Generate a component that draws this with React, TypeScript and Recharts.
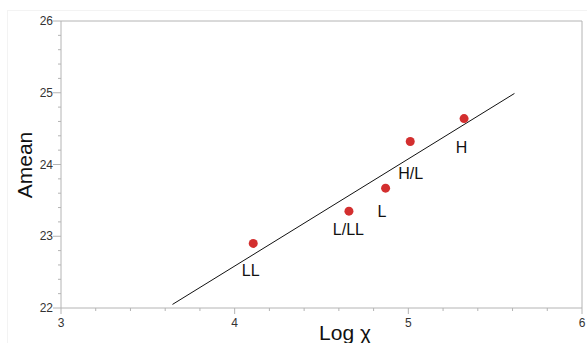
import React from 'react';
import { ScatterChart, Scatter, XAxis, YAxis, ReferenceLine, LabelList, Label } from 'recharts';

// grain classes: log magnetic susceptibility vs mean A value
const groups = ['LL', 'L/LL', 'L', 'H/L', 'H'];
const logChi = [4.107, 4.658, 4.869, 5.011, 5.321];
const amean = [22.9, 23.35, 23.67, 24.32, 24.64];

// fitted line end points
const fitX = [3.642, 5.611];
const fitY = [22.05, 24.99];

const xTicks = [3, 3.2, 3.4, 3.6, 3.8, 4, 4.2, 4.4, 4.6, 4.8, 5, 5.2, 5.4, 5.6, 5.8, 6];
const yTicks = [22, 22.2, 22.4, 22.6, 22.8, 23, 23.2, 23.4, 23.6, 23.8, 24, 24.2, 24.4, 24.6, 24.8, 25, 25.2, 25.4, 25.6, 25.8, 26];

const points = groups.map((g, i) => ({ x: logChi[i], y: amean[i], name: g }));
const fitLine = fitX.map((x, i) => ({ x, y: fitY[i] }));

// label placement relative to each point (px)
const labelShift: Record<string, [number, number]> = {
  LL: [2, 31],
  'L/LL': [4, 22],
  L: [1, 27],
  'H/L': [5, 36],
  H: [2, 33],
};

const AXIS = '#b4b4b4';
const FONT = '"Liberation Sans", Arial, sans-serif';

const isMajor = (v: number) => Math.abs(v - Math.round(v)) < 1e-6;

const XTick = (props: any) => {
  const { x, y, payload } = props;
  const major = isMajor(payload.value);
  return (
    <g>
      <line x1={x} x2={x} y1={y} y2={y + (major ? 6 : 3)} stroke={AXIS} />
      {major && (
        <text x={x} y={y + 19} textAnchor="middle" fontSize={12} fill="#333" fontFamily={FONT}>
          {payload.value}
        </text>
      )}
    </g>
  );
};

const YTick = (props: any) => {
  const { x, y, payload } = props;
  const major = isMajor(payload.value);
  return (
    <g>
      <line x1={x} x2={x - (major ? 8 : 3)} y1={y} y2={y} stroke={AXIS} />
      {major && (
        <text x={x - 8} y={y + 4} textAnchor="end" fontSize={12} fill="#333" fontFamily={FONT}>
          {payload.value}
        </text>
      )}
    </g>
  );
};

const PointLabel = (props: any) => {
  const { x, y, value } = props;
  const [dx, dy] = labelShift[value] || [0, 25];
  return (
    <text x={x + dx} y={y + dy + 6} textAnchor="middle" fontSize={16} fill="#111" fontFamily={FONT}>
      {value}
    </text>
  );
};

export default function App() {
  return (
    <div style={{ position: 'absolute', left: 0, top: 0, width: 587, height: 343, background: '#fff' }}>
      <div style={{ position: 'absolute', left: 7, top: 10, right: 0, bottom: 0, borderTop: '1px solid #f3f3f3', borderLeft: '1px solid #f3f3f3' }} />
      <ScatterChart width={587} height={343} margin={{ top: 21, right: 5, bottom: 0, left: 0 }} style={{ position: 'absolute', left: 0, top: 0 }}>
        <XAxis
          type="number"
          dataKey="x"
          domain={[3, 6]}
          ticks={xTicks}
          interval={0}
          height={35}
          tickSize={0}
          tickMargin={0}
          tickLine={false}
          stroke={AXIS}
          tick={<XTick />}
        >
          <Label
            content={() => (
              <text x={345} y={340} textAnchor="middle" fontSize={21} fill="#111" fontFamily={FONT}>
                Log χ
              </text>
            )}
          />
        </XAxis>
        <YAxis
          type="number"
          dataKey="y"
          domain={[22, 26]}
          ticks={yTicks}
          interval={0}
          width={61}
          tickSize={0}
          tickMargin={0}
          tickLine={false}
          stroke={AXIS}
          tick={<YTick />}
        >
          <Label
            content={() => (
              <text x={32} y={165} transform="rotate(-90 32 165)" textAnchor="middle" fontSize={21} fill="#111" fontFamily={FONT}>
                Amean
              </text>
            )}
          />
        </YAxis>
        <ReferenceLine y={26} stroke={AXIS} />
        <ReferenceLine x={6} stroke={AXIS} />
        <Scatter data={fitLine} line={{ stroke: '#111', strokeWidth: 1 }} shape={() => null} isAnimationActive={false} />
        <Scatter data={points} fill="#d32f2f" shape={(p: any) => <circle cx={p.cx} cy={p.cy} r={4.5} fill="#d32f2f" />} isAnimationActive={false}>
          <LabelList dataKey="name" content={<PointLabel />} />
        </Scatter>
      </ScatterChart>
    </div>
  );
}
